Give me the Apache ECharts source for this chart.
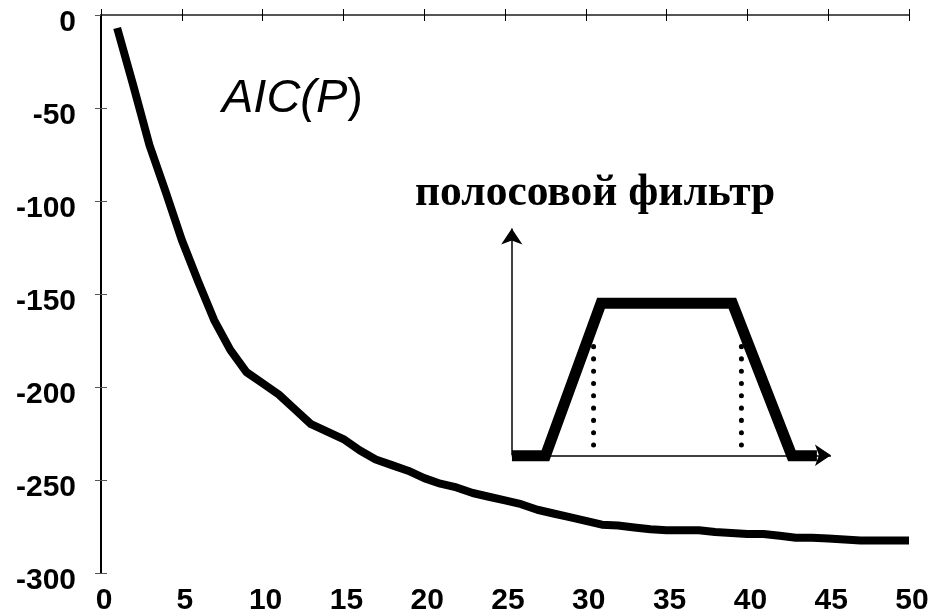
<!DOCTYPE html>
<html>
<head>
<meta charset="utf-8">
<script src="https://cdn.jsdelivr.net/npm/echarts@6/dist/echarts.min.js"></script>
<style>
  html, body { margin: 0; padding: 0; background: #fff; }
  #chart { width: 945px; height: 616px; }
</style>
</head>
<body>
<div id="chart"></div>
<script>
// model order P and AIC(P)
const orders = [1, 2, 3, 4, 5, 6, 7, 8, 9, 10, 11, 12, 13, 14, 15, 16, 17, 18, 19, 20,
  21, 22, 23, 24, 25, 26, 27, 28, 29, 30, 31, 32, 33, 34, 35, 36, 37, 38, 39, 40,
  41, 42, 43, 44, 45, 46, 47, 48, 49, 50];
const aic = [-7, -38, -70, -95, -121, -143, -164, -180, -192, -198,
  -204, -212, -220, -224, -228, -234, -239, -242, -245, -249,
  -252, -254, -257, -259, -261, -263, -266, -268, -270, -272,
  -274, -274.5, -275.5, -276.5, -277, -277, -277, -278, -278.5, -279,
  -279, -280, -281, -281, -281.5, -282, -282.5, -282.5, -282.5, -282.5];

// inset sketch of the band-pass filter, in chart units
const filterShape = [[25.43, -237], [27.5, -237], [30.94, -155], [39.07, -155], [42.75, -237], [44.3, -237]];
const filterAxes = [
  [[25.42, -236.7], [25.42, -114.8]],
  [[25.42, -236.7], [45.17, -236.7]]
];
const cutoffs = [30.48, 39.63];
const cutoffRange = [-231.2, -172.4];

const chart = echarts.init(document.getElementById('chart'));

const labelFont = {
  color: '#000',
  fontFamily: 'Liberation Sans, Arial, sans-serif',
  fontWeight: 'bold',
  fontSize: 30
};

const option = {
  animation: false,
  grid: { left: 101, right: 36, top: 15, bottom: 39, containLabel: false },
  xAxis: [
    {
      type: 'value', min: 0, max: 50, interval: 5,
      axisLine: { lineStyle: { color: '#000', width: 2 } },
      axisTick: { inside: true, length: 6, lineStyle: { color: '#000', width: 1 } },
      splitLine: { show: false },
      axisLabel: Object.assign({ margin: 13, padding: [0, 0, 0, 6] }, labelFont)
    },
    {
      type: 'value', position: 'top', min: 0, max: 50, interval: 5,
      axisLine: { lineStyle: { color: '#555', width: 2 } },
      axisTick: { inside: true, length: 6, lineStyle: { color: '#000', width: 1 } },
      splitLine: { show: false },
      axisLabel: { show: false }
    }
  ],
  yAxis: [
    {
      type: 'value', min: -300, max: 0, interval: 50,
      axisLine: { lineStyle: { color: '#000', width: 2 } },
      axisTick: { inside: true, length: 6, lineStyle: { color: '#555', width: 1 } },
      splitLine: { show: false },
      axisLabel: Object.assign({ margin: 25, verticalAlign: 'top', lineHeight: 15 }, labelFont)
    },
    {
      type: 'value', position: 'right', min: -300, max: 0, interval: 50,
      axisLine: { lineStyle: { color: '#000', width: 2 } },
      axisTick: { inside: true, length: 6, lineStyle: { color: '#555', width: 1 } },
      splitLine: { show: false },
      axisLabel: { show: false }
    }
  ],
  series: [
    {
      type: 'line',
      data: orders.map((p, i) => [p, aic[i]]),
      symbol: 'none',
      silent: true,
      lineStyle: { color: '#000', width: 8, join: 'round', cap: 'butt' }
    },
    {
      type: 'lines',
      coordinateSystem: 'cartesian2d',
      silent: true,
      symbol: ['none', 'arrow'],
      symbolSize: 16,
      lineStyle: { color: '#000', width: 1.5, opacity: 1, curveness: 0 },
      data: filterAxes.map(c => ({ coords: c }))
    },
    {
      type: 'line',
      data: filterShape,
      symbol: 'none',
      silent: true,
      lineStyle: { color: '#000', width: 11, join: 'miter', cap: 'butt' }
    }
  ].concat(cutoffs.map(x => ({
    type: 'line',
    data: cutoffRange.map(y => [x, y]),
    symbol: 'none',
    silent: true,
    lineStyle: { color: '#000', width: 5, type: [0.1, 12.2], cap: 'round' }
  }))),
  graphic: [
    {
      type: 'text', left: 222, top: 75,
      style: {
        text: '{i|AIC(P}{n|)}',
        rich: {
          i: { fontFamily: 'Liberation Sans, Arial, sans-serif', fontStyle: 'italic', fontSize: 47, fill: '#000' },
          n: { fontFamily: 'Liberation Sans, Arial, sans-serif', fontSize: 47, fill: '#000' }
        }
      }
    },
    {
      type: 'text', left: 415, top: 172,
      style: {
        text: 'полосовой фильтр',
        fontFamily: 'Liberation Serif, Times New Roman, serif',
        fontWeight: 'bold',
        fontSize: 43.5,
        fill: '#000'
      }
    }
  ]
};

chart.setOption(option);

window.addEventListener('resize', function () {
  chart.resize();
});
</script>
</body>
</html>
